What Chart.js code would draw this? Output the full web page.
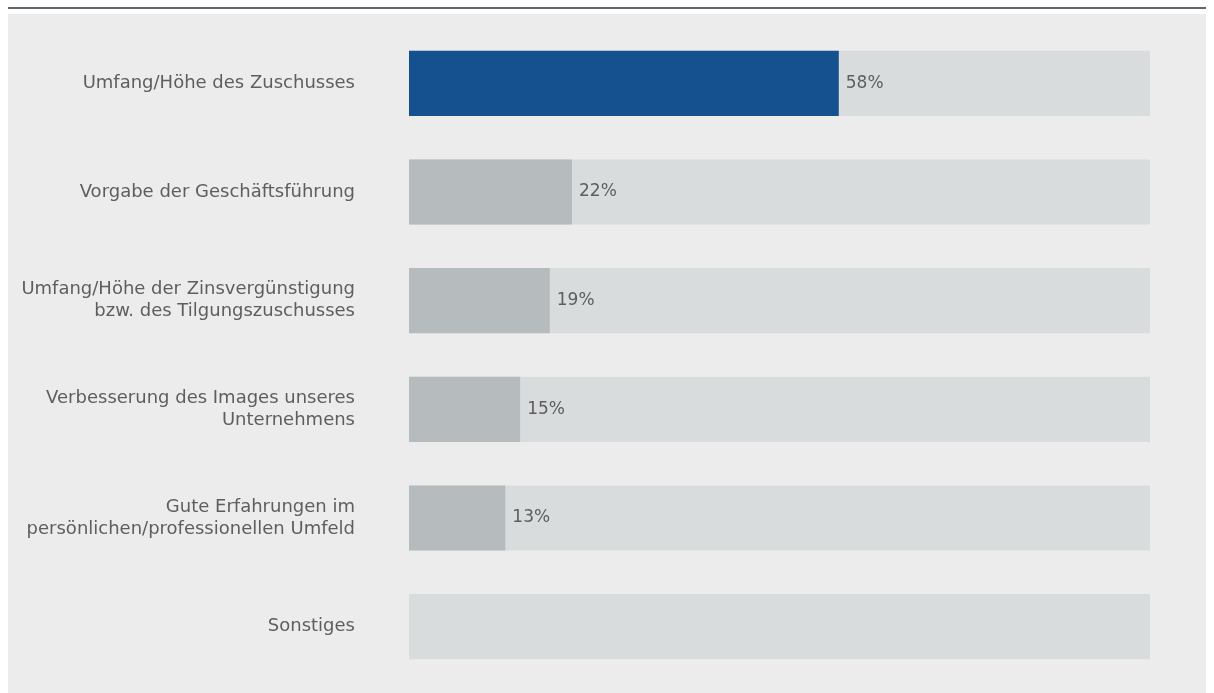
<!DOCTYPE html>
<html lang="de">
<head>
<meta charset="utf-8">
<title>Gründe für die Förderung</title>
<script src="https://cdn.jsdelivr.net/npm/chart.js@4/dist/chart.umd.min.js"></script>
<style>
    html, body { margin: 0; padding: 0; background: #ffffff; }
    #wrap { width: 1214px; height: 693px; position: relative; }
</style>
</head>
<body>
<div id="wrap"><canvas id="grundChart" width="1214" height="693"></canvas></div>
<script>
// Kategorien (mehrzeilige Beschriftungen als Arrays)
const kategorien = [
    "Umfang/Höhe des Zuschusses",
    "Vorgabe der Geschäftsführung",
    ["Umfang/Höhe der Zinsvergünstigung", "bzw. des Tilgungszuschusses"],
    ["Verbesserung des Images unseres", "Unternehmens"],
    ["Gute Erfahrungen im", "persönlichen/professionellen Umfeld"],
    "Sonstiges"
];
// Anteile in Prozent
const anteile = [58, 22, 19, 15, 13, null];
// Hintergrundbalken (volle Skala)
const skala = [100, 100, 100, 100, 100, 100];

const farbeBlau = '#15508f';
const farbeGrau = '#b6bbbd';
const farbeSpur = '#d9dcdd';
const textFarbe = '#5e5e5e';
const schrift = "'DejaVu Sans', Verdana, sans-serif";

// Hintergrundfläche und Linie oben
const hintergrund = {
    id: 'hintergrund',
    beforeDraw: chart => {
        const ctx = chart.ctx;
        ctx.save();
        ctx.fillStyle = '#ffffff';
        ctx.fillRect(0, 0, chart.width, chart.height);
        ctx.fillStyle = '#ececec';
        ctx.fillRect(8, 14, 1198, chart.height - 14);
        ctx.fillStyle = '#5f676d';
        ctx.fillRect(8, 7, 1198, 2);
        ctx.restore();
    }
};

// Prozentwerte rechts neben den Balken
const werte = {
    id: 'werte',
    afterDatasetsDraw: chart => {
        const ctx = chart.ctx;
        const meta = chart.getDatasetMeta(0);
        ctx.save();
        ctx.font = '17px ' + schrift;
        ctx.fillStyle = textFarbe;
        ctx.textAlign = 'left';
        ctx.textBaseline = 'middle';
        meta.data.forEach((bar, i) => {
            if (anteile[i] == null) return;
            ctx.fillText(anteile[i] + '%', bar.x + 7, bar.y);
        });
        ctx.restore();
    }
};

const ctx = document.getElementById('grundChart').getContext('2d');
const grundChart = new Chart(ctx, {
    type: 'bar',
    data: {
        labels: kategorien,
        datasets: [{
            label: 'Anteil',
            data: anteile,
            backgroundColor: anteile.map((v, i) => i === 0 ? farbeBlau : farbeGrau),
            barPercentage: 0.6,
            categoryPercentage: 1
        }, {
            label: 'Skala',
            data: skala,
            backgroundColor: farbeSpur,
            barPercentage: 0.6,
            categoryPercentage: 1
        }]
    },
    options: {
        indexAxis: 'y',
        responsive: false,
        animation: false,
        grouped: false,
        layout: {
            padding: { left: 0, right: 64, top: 29, bottom: 12 }
        },
        plugins: {
            legend: { display: false },
            tooltip: { enabled: false }
        },
        scales: {
            x: {
                display: false,
                min: 0,
                max: 100
            },
            y: {
                grid: { display: false },
                border: { display: false },
                afterFit: scale => {
                    scale.width = 409;
                    scale.paddingTop = 0;
                    scale.paddingBottom = 0;
                },
                ticks: {
                    padding: 46,
                    color: textFarbe,
                    font: { family: schrift, size: 18, lineHeight: '22px' }
                }
            }
        }
    },
    plugins: [hintergrund, werte]
});
</script>
</body>
</html>
